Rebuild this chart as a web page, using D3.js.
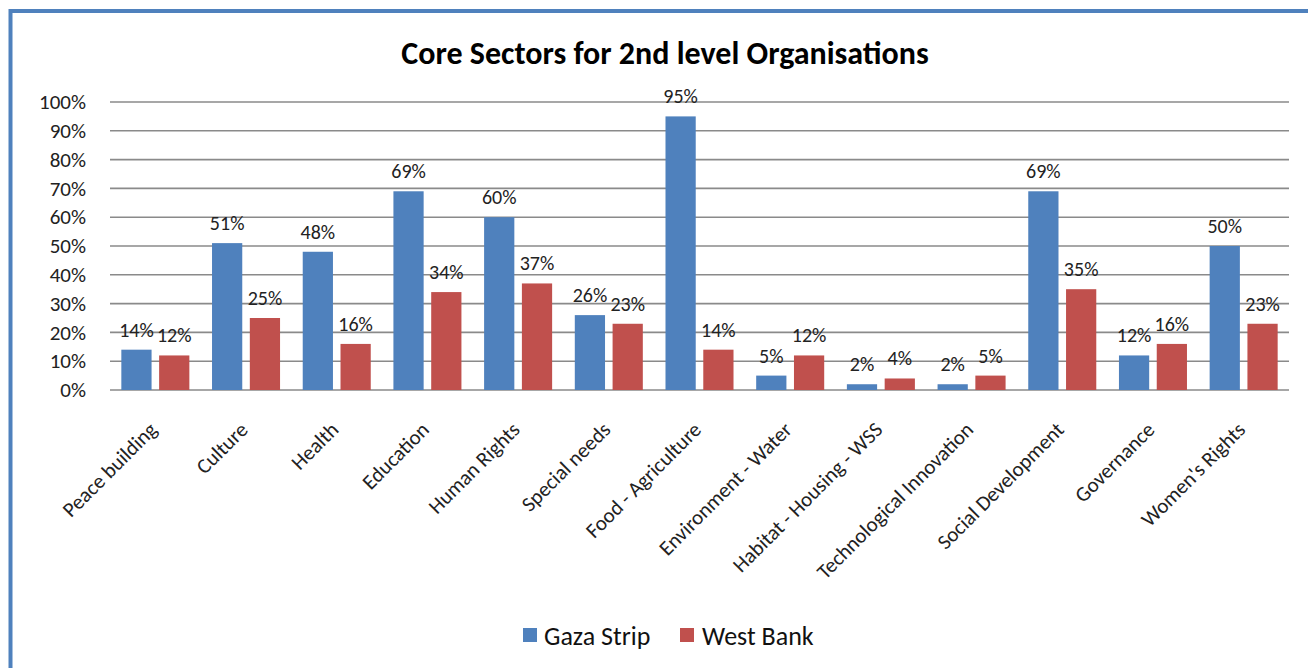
<!DOCTYPE html>
<html>
<head>
<meta charset="utf-8">
<script src="https://cdn.jsdelivr.net/npm/d3@7"></script>
<style>
  html, body { margin: 0; padding: 0; background: #fff; }
  svg { display: block; font-family: Carlito, Lato, "Open Sans", sans-serif; }
</style>
</head>
<body>
<svg id="chart" width="1308" height="668"></svg>
<script>
// Sector categories and share of organisations per region (percent)
const categories = [
  "Peace building", "Culture", "Health", "Education", "Human Rights",
  "Special needs", "Food - Agriculture", "Environment - Water",
  "Habitat - Housing - WSS", "Technological Innovation",
  "Social Development", "Governance", "Women's Rights"
];
const gazaStrip = [14, 51, 48, 69, 60, 26, 95, 5, 2, 2, 69, 12, 50];
const westBank  = [12, 25, 16, 34, 37, 23, 14, 12, 4, 5, 35, 16, 23];
const seriesNames = ["Gaza Strip", "West Bank"];
const yTicks = [0, 10, 20, 30, 40, 50, 60, 70, 80, 90, 100];

const colors = ["#4F81BD", "#C0504D"];
const series = [gazaStrip, westBank];
const fontStack = "Carlito, Lato, 'Open Sans', sans-serif";

const svg = d3.select("#chart");

// Outer frame
svg.append("rect")
  .attr("x", 10.5).attr("y", 11)
  .attr("width", 1400).attr("height", 800)
  .attr("fill", "none")
  .attr("stroke", "#4F81BD")
  .attr("stroke-width", 4);

const plot = { left: 110, right: 1289, top: 102, bottom: 390 };

const x = d3.scaleBand()
  .domain(categories)
  .range([plot.left, plot.right])
  .paddingInner(0.25)
  .paddingOuter(0.125);

const xInner = d3.scaleBand()
  .domain(d3.range(series.length))
  .range([0, x.bandwidth()])
  .paddingInner(0.2);

const y = d3.scaleLinear().domain([0, 100]).range([plot.bottom, plot.top]);

// Gridlines
svg.append("g")
  .selectAll("line")
  .data(yTicks)
  .join("line")
  .attr("x1", plot.left).attr("x2", plot.right)
  .attr("y1", d => y(d)).attr("y2", d => y(d))
  .attr("stroke", "#8a8a8a")
  .attr("stroke-width", 1.6);

// Y axis labels
const yAxis = d3.axisLeft(y)
  .tickValues(yTicks)
  .tickFormat(d => d + "%")
  .tickSize(0)
  .tickPadding(0);
const gy = svg.append("g")
  .attr("transform", `translate(${plot.left - 24},0)`)
  .call(yAxis);
gy.select(".domain").remove();
gy.selectAll("text")
  .attr("font-size", 21)
  .attr("fill", "#222")
  .attr("font-family", fontStack);

// Bars and value labels
const groups = svg.append("g")
  .selectAll("g")
  .data(categories)
  .join("g")
  .attr("transform", d => `translate(${x(d)},0)`);

series.forEach((vals, si) => {
  groups.append("rect")
    .attr("x", xInner(si))
    .attr("width", xInner.bandwidth())
    .attr("y", (d, i) => y(vals[i]))
    .attr("height", (d, i) => y(0) - y(vals[i]))
    .attr("fill", colors[si]);

  groups.append("text")
    .attr("x", xInner(si) + xInner.bandwidth() / 2)
    .attr("y", (d, i) => y(vals[i]) - 13)
    .attr("text-anchor", "middle")
    .attr("font-size", 20)
    .attr("fill", "#222")
    .text((d, i) => vals[i] + "%");
});

// Category labels, rotated
const xAxis = d3.axisBottom(x).tickSize(0).tickPadding(0);
const gx = svg.append("g")
  .attr("transform", `translate(0,${plot.bottom})`)
  .call(xAxis);
gx.select(".domain").remove();
gx.selectAll("text")
  .attr("font-size", 21)
  .attr("fill", "#222")
  .attr("font-family", fontStack)
  .attr("text-anchor", "end")
  .attr("y", 0)
  .attr("dy", 0)
  .attr("transform", "translate(3,41) rotate(-45)");

// Title
svg.append("text")
  .attr("x", 665).attr("y", 64)
  .attr("text-anchor", "middle")
  .attr("font-size", 32)
  .attr("font-weight", "bold")
  .attr("fill", "#000")
  .text("Core Sectors for 2nd level Organisations");

// Legend
const legendPos = [{ sx: 523, tx: 544 }, { sx: 680, tx: 702 }];
const legend = svg.append("g")
  .selectAll("g")
  .data(seriesNames)
  .join("g");
legend.append("rect")
  .attr("x", (d, i) => legendPos[i].sx)
  .attr("y", 628)
  .attr("width", 14).attr("height", 14)
  .attr("fill", (d, i) => colors[i]);
legend.append("text")
  .attr("x", (d, i) => legendPos[i].tx)
  .attr("y", 645)
  .attr("font-size", 26)
  .attr("fill", "#111")
  .text(d => d);
</script>
</body>
</html>
